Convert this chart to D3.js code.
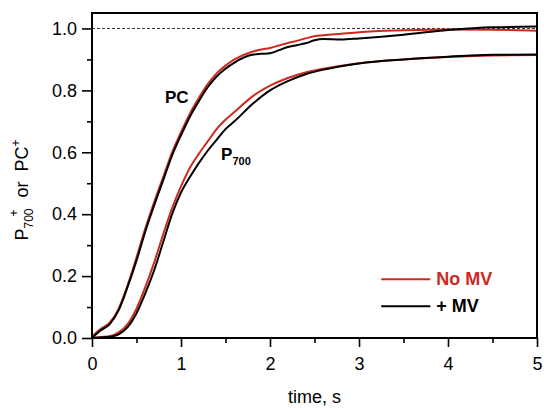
<!DOCTYPE html>
<html>
<head>
<meta charset="utf-8">
<script src="https://cdn.jsdelivr.net/npm/d3@7"></script>
<style>
  body { margin: 0; background: #fff; }
  svg { font-family: "Liberation Sans", Arial, Helvetica, sans-serif; }
</style>
</head>
<body>
<div id="chart"></div>
<script>
    // time points (s)
    var pcTime = [0, 0.1, 0.2, 0.3, 0.4, 0.5, 0.6, 0.7, 0.8, 0.9, 1.0, 1.1, 1.2, 1.3, 1.4, 1.5, 1.6,
        1.8, 1.9, 2.0, 2.1, 2.2, 2.3, 2.4, 2.5, 2.6, 2.8, 3.0, 3.5, 4.0, 4.5, 5.0];
    var pcNoMV = [0.005, 0.03, 0.05, 0.095, 0.17, 0.26, 0.355, 0.44, 0.52, 0.6, 0.665, 0.725, 0.775, 0.82, 0.855, 0.88, 0.9,
        0.925, 0.932, 0.937, 0.945, 0.953, 0.96, 0.968, 0.975, 0.978, 0.983, 0.988, 0.994, 0.997, 0.996, 0.993];
    var pcPlusMV = [0, 0.025, 0.045, 0.09, 0.165, 0.25, 0.345, 0.43, 0.51, 0.59, 0.655, 0.715, 0.765, 0.81, 0.845, 0.87, 0.89,
        0.915, 0.918, 0.92, 0.93, 0.94, 0.946, 0.952, 0.962, 0.966, 0.964, 0.968, 0.98, 0.995, 1.004, 1.006];

    var p700Time = [0, 0.1, 0.2, 0.3, 0.4, 0.5, 0.6, 0.7, 0.8, 0.9, 1.0, 1.1, 1.2, 1.3, 1.4, 1.5, 1.6,
        1.8, 2.0, 2.2, 2.4, 2.6, 2.8, 3.0, 3.5, 4.0, 4.5, 5.0];
    var p700NoMV = [0, 0.003, 0.006, 0.018, 0.045, 0.095, 0.165, 0.245, 0.335, 0.42, 0.49, 0.55, 0.595, 0.635, 0.675, 0.705, 0.73,
        0.78, 0.815, 0.84, 0.858, 0.87, 0.88, 0.888, 0.9, 0.908, 0.913, 0.914];
    var p700PlusMV = [0, 0.002, 0.004, 0.012, 0.035, 0.08, 0.145, 0.22, 0.31, 0.4, 0.47, 0.52, 0.565, 0.605, 0.64, 0.675, 0.7,
        0.755, 0.8, 0.83, 0.852, 0.867, 0.878, 0.887, 0.9, 0.909, 0.915, 0.916];

    var xTicks = [0, 1, 2, 3, 4, 5];
    var yTicks = [0, 0.2, 0.4, 0.6, 0.8, 1.0];

    var red = '#cc2a1f';

    var margin = { top: 13, right: 7, bottom: 70, left: 92 };
    var width = 544 - margin.left - margin.right,
        height = 408 - margin.top - margin.bottom;

    var svg = d3.select('#chart').append('svg')
        .attr('width', 544)
        .attr('height', 408);

    var g = svg.append('g')
        .attr('transform', 'translate(' + margin.left + ',' + margin.top + ')');

    var xScale = d3.scaleLinear().domain([0, 5]).range([0, width]);
    var yScale = d3.scaleLinear().domain([0, 1.05]).range([height, 0]);

    // dashed reference at 1.0
    g.append('line')
        .attr('x1', 0).attr('x2', width)
        .attr('y1', yScale(1)).attr('y2', yScale(1))
        .style('stroke', '#333')
        .style('stroke-width', 1)
        .style('stroke-dasharray', '3,2');

    function zip(t, v) {
        return t.map(function(d, i) { return [d, v[i]]; });
    }

    var line = d3.line()
        .x(function(d) { return xScale(d[0]); })
        .y(function(d) { return yScale(d[1]); })
        .curve(d3.curveMonotoneX);

    var series = [
        { t: pcTime, v: pcNoMV, color: red },
        { t: p700Time, v: p700NoMV, color: red },
        { t: pcTime, v: pcPlusMV, color: '#000' },
        { t: p700Time, v: p700PlusMV, color: '#000' }
    ];

    g.selectAll('path.trace').data(series)
        .enter().append('path')
        .attr('class', 'trace')
        .attr('d', function(d) { return line(zip(d.t, d.v)); })
        .style('fill', 'none')
        .style('stroke', function(d) { return d.color; })
        .style('stroke-width', 2);

    // axes
    var xAxis = d3.axisBottom(xScale).tickValues(xTicks).tickFormat(d3.format('d'))
        .tickSizeInner(9).tickSizeOuter(0).tickPadding(10);
    var xMinor = d3.axisBottom(xScale).tickValues([0.5, 1.5, 2.5, 3.5, 4.5])
        .tickFormat('').tickSizeInner(5).tickSizeOuter(0);
    var yAxis = d3.axisLeft(yScale).tickValues(yTicks).tickFormat(d3.format('.1f'))
        .tickSizeInner(10).tickSizeOuter(0).tickPadding(5);
    var yMinor = d3.axisLeft(yScale).tickValues([0.1, 0.3, 0.5, 0.7, 0.9])
        .tickFormat('').tickSizeInner(5).tickSizeOuter(0);

    var hGuide = g.append('g').attr('transform', 'translate(0,' + height + ')').call(xAxis);
    var hMinor = g.append('g').attr('transform', 'translate(0,' + height + ')').call(xMinor);
    var vGuide = g.append('g').call(yAxis);
    var vMinor = g.append('g').call(yMinor);

    [hGuide, hMinor, vGuide, vMinor].forEach(function(a) {
        a.select('.domain').remove();
        a.selectAll('line').style('stroke', '#000').style('stroke-width', 1.6);
        a.selectAll('text').style('font-size', '18px').style('fill', '#000');
    });

    // frame
    g.append('rect')
        .attr('x', 0).attr('y', 0)
        .attr('width', width).attr('height', height)
        .style('fill', 'none')
        .style('stroke', '#000')
        .style('stroke-width', 2);

    // curve labels
    g.append('text')
        .attr('x', xScale(0.82)).attr('y', yScale(0.76))
        .style('font-size', '17px').style('font-weight', 'bold')
        .text('PC');

    var p700Label = g.append('text')
        .attr('x', xScale(1.45)).attr('y', yScale(0.575))
        .style('font-size', '17px').style('font-weight', 'bold');
    p700Label.append('tspan').text('P');
    p700Label.append('tspan').attr('dy', 5).style('font-size', '11px').text('700');

    // axis titles
    svg.append('text')
        .attr('x', margin.left + xScale(2.5)).attr('y', 403)
        .attr('text-anchor', 'middle')
        .style('font-size', '18px')
        .text('time, s');

    var yTitle = svg.append('text')
        .attr('transform', 'translate(28,190) rotate(-90)')
        .attr('text-anchor', 'middle')
        .style('font-size', '18px');
    yTitle.append('tspan').text('P');
    yTitle.append('tspan').attr('dy', 5).style('font-size', '12px').text('700');
    yTitle.append('tspan').attr('dy', -15).attr('dx', -8).style('font-size', '12px').text('+');
    yTitle.append('tspan').attr('dy', 10).attr('dx', 2).text('\u00a0 or \u00a0PC');
    yTitle.append('tspan').attr('dy', -8).style('font-size', '12px').text('+');

    // legend
    var legend = [
        { name: 'No MV', color: red },
        { name: '+ MV', color: '#000' }
    ];
    var lg = g.selectAll('g.legend').data(legend)
        .enter().append('g')
        .attr('class', 'legend')
        .attr('transform', function(d, i) { return 'translate(' + xScale(3.25) + ',' + (yScale(0.19) + i * 27) + ')'; });
    lg.append('line')
        .attr('x1', 0).attr('x2', 49)
        .style('stroke', function(d) { return d.color; })
        .style('stroke-width', 2);
    lg.append('text')
        .attr('x', 55).attr('y', 6)
        .style('font-size', '18px').style('font-weight', 'bold')
        .style('fill', function(d) { return d.color; })
        .text(function(d) { return d.name; });
</script>
</body>
</html>
